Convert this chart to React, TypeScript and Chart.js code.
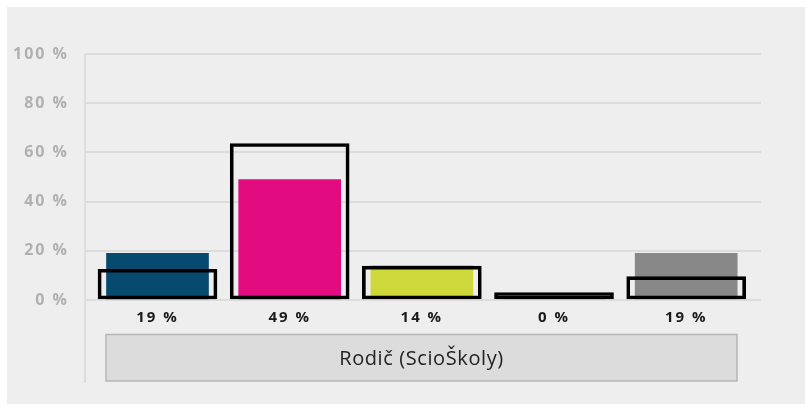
import React, { useEffect, useRef } from 'react';
import { Chart, registerables } from 'chart.js';

Chart.register(...registerables);

// ---- data ----
const groupLabel = 'Rodič (ScioŠkoly)';
const valueLabels = ['19 %', '49 %', '14 %', '0 %', '19 %'];
const filledValues = [19, 49, 14, 0, 19];
const outlineValues = [12.5, 63.6, 13.8, 3.0, 9.5];
const filledColors = ['#074a70', '#e20b80', '#cdd93b', '#888888', '#888888'];
const yMin = 0;
const yMax = 100;
const yStep = 20;

const decorPlugin = {
  id: 'decor',
  beforeDraw(chart: any) {
    chart.ctx.letterSpacing = '2px';
  },
  afterDraw(chart: any) {
    const { ctx, chartArea, scales } = chart;
    const xs = scales.x;
    ctx.save();
    ctx.letterSpacing = '0px';
    // left vertical rule
    ctx.strokeStyle = '#dedede';
    ctx.lineWidth = 2;
    ctx.beginPath();
    ctx.moveTo(chartArea.left, chartArea.top - 1);
    ctx.lineTo(chartArea.left, chartArea.bottom + 83);
    ctx.stroke();
    // group box
    const l = Math.round(xs.getPixelForValue(0) - 51);
    const r = Math.round(xs.getPixelForValue(filledValues.length - 1) + 51);
    const t = chartArea.bottom + 34.5;
    const b = chartArea.bottom + 81;
    ctx.fillStyle = '#dcdcdc';
    ctx.fillRect(l, t, r - l, b - t);
    ctx.strokeStyle = '#b6b6b6';
    ctx.lineWidth = 1.5;
    ctx.strokeRect(l, t, r - l, b - t);
    ctx.fillStyle = '#222222';
    ctx.font = '20px "Open Sans"';
    ctx.letterSpacing = '0.6px';
    ctx.textAlign = 'center';
    ctx.textBaseline = 'middle';
    ctx.fillText(groupLabel, (l + r) / 2, (t + b) / 2 + 2);
    ctx.restore();
  },
};

export default function App() {
  const ref = useRef<HTMLCanvasElement | null>(null);

  useEffect(() => {
    if (!ref.current) return;
    const chart = new Chart(ref.current, {
      type: 'bar',
      data: {
        datasets: [
          {
            label: 'outline',
            data: outlineValues.map((v, i) => ({ x: i, y: v })),
            backgroundColor: 'rgba(0,0,0,0)',
            borderColor: '#000000',
            borderWidth: 3,
            borderSkipped: false,
            barThickness: 119,
            grouped: false,
            order: 0,
          } as any,
          {
            label: 'filled',
            data: filledValues.map((v, i) => ({ x: i, y: v })),
            backgroundColor: filledColors,
            borderWidth: 0,
            barThickness: 102,
            grouped: false,
            order: 1,
          } as any,
        ],
      },
      options: {
        responsive: false,
        animation: false,
        layout: { padding: { top: 47, right: 44, left: 0, bottom: 0 } },
        plugins: {
          legend: { display: false },
          tooltip: { enabled: false },
        },
        scales: {
          x: {
            type: 'linear',
            offset: false,
            min: -0.5485,
            max: 4.566,
            grid: { display: false, drawTicks: false },
            border: { display: false },
            afterBuildTicks: (s: any) => {
              s.ticks = valueLabels.map((_, i) => ({ value: i }));
            },
            afterFit: (s: any) => {
              s.height = 104;
            },
            ticks: {
              autoSkip: false,
              maxRotation: 0,
              padding: 9,
              color: '#1a1a1a',
              font: { family: '"Open Sans"', size: 15, weight: 'bold' },
              callback: (v: any) => valueLabels[Math.round(Number(v))],
            },
          },
          y: {
            min: yMin,
            max: yMax,
            grid: { color: '#dcdcdc', lineWidth: 2, drawTicks: false },
            border: { display: false },
            afterFit: (s: any) => {
              s.width = 78;
            },
            ticks: {
              stepSize: yStep,
              padding: 16,
              color: '#b0b0b0',
              font: { family: '"Open Sans"', size: 16, weight: 'bold' },
              callback: (v: any) => `${v} %`,
            },
          },
        },
      } as any,
      plugins: [decorPlugin],
    });
    return () => chart.destroy();
  }, []);

  return (
    <div
      style={{
        position: 'absolute',
        left: 7,
        top: 7,
        width: 798,
        height: 397,
        background: '#eeeeee',
      }}
    >
      <canvas ref={ref} width={798} height={397} style={{ display: 'block', width: 798, height: 397 }} />
    </div>
  );
}
